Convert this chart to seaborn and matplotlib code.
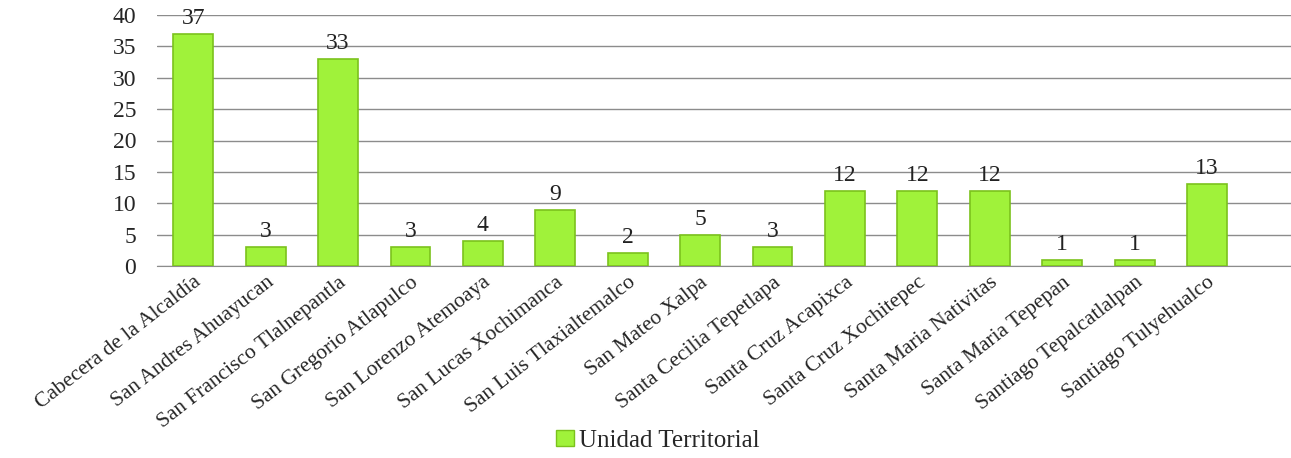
import matplotlib.pyplot as plt
import seaborn as sns
import pandas as pd
from matplotlib.patches import Patch

# Data
unidades = ["Cabecera de la Alcaldía", "San Andres Ahuayucan", "San Francisco Tlalnepantla",
            "San Gregorio Atlapulco", "San Lorenzo Atemoaya", "San Lucas Xochimanca",
            "San Luis Tlaxialtemalco", "San Mateo Xalpa", "Santa Cecilia Tepetlapa",
            "Santa Cruz Acapixca", "Santa Cruz Xochitepec", "Santa Maria Nativitas",
            "Santa Maria Tepepan", "Santiago Tepalcatlalpan", "Santiago Tulyehualco"]
conteos = [37, 3, 33, 3, 4, 9, 2, 5, 3, 12, 12, 12, 1, 1, 13]
y_ticks = [0, 5, 10, 15, 20, 25, 30, 35, 40]
serie = "Unidad Territorial"

sns.set_style("white")
plt.rcParams["font.family"] = ["Liberation Serif", "DejaVu Serif"]

df = pd.DataFrame({"unidad": unidades, "conteo": conteos})

fig = plt.figure(figsize=(12.91, 4.58), dpi=100)
ax = fig.add_axes([157 / 1291, 1 - 266 / 458, (1291 - 157) / 1291, (266 - 15) / 458])

sns.barplot(data=df, x="unidad", y="conteo", color="#a0f23a", width=0.55,
            edgecolor="#7bc21c", linewidth=1.2, saturation=1, ax=ax, zorder=3)

ax.set_xlim(-0.5, 15.16)
ax.set_ylim(0, 40)
ax.set_yticks(y_ticks)
ax.set_yticklabels([str(t) for t in y_ticks], fontsize=17)
ax.tick_params(axis="y", length=0, pad=15)
ax.tick_params(axis="x", length=0, pad=5)
ax.set_xticks(range(len(unidades)))
ax.set_xticklabels(unidades, rotation=38, ha="right", rotation_mode="anchor", fontsize=15.5)
ax.set_xlabel("")
ax.set_ylabel("")

ax.yaxis.grid(True, color="#8c8c8c", linewidth=1, zorder=0)
ax.xaxis.grid(False)
for side in ["top", "right", "left"]:
    ax.spines[side].set_visible(False)
ax.spines["bottom"].set_color("#8c8c8c")

for i, v in enumerate(conteos):
    ax.text(i, v + 0.8, str(v), ha="center", va="bottom", fontsize=17, color="#222222", zorder=4)

handle = Patch(facecolor="#a0f23a", edgecolor="#7bc21c", label=serie)
fig.legend(handles=[handle], loc="center", bbox_to_anchor=(658 / 1291, 1 - 441 / 458),
           frameon=False, fontsize=18, handlelength=0.7, handleheight=0.6, handletextpad=0.2)

plt.savefig("out.png", dpi=100)
